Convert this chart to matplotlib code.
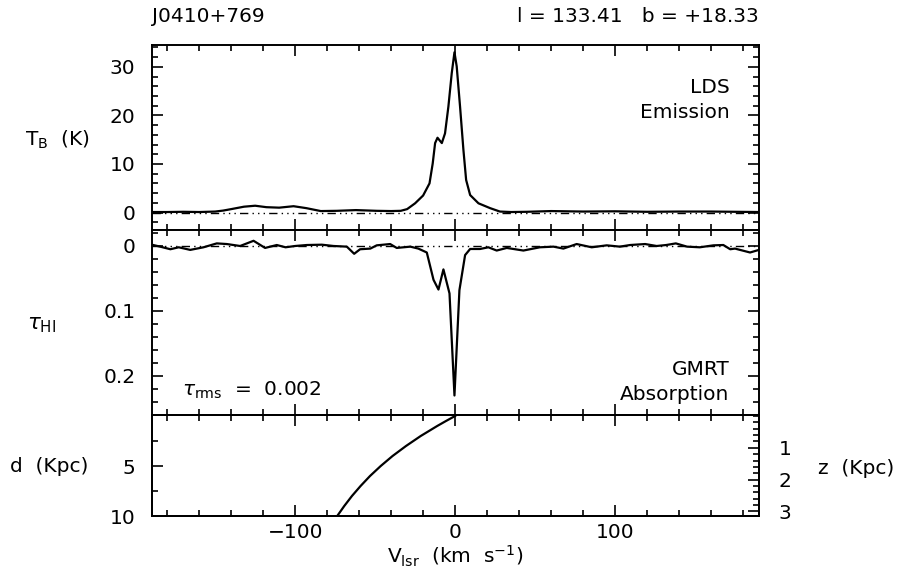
import numpy as np
import matplotlib
matplotlib.use("Agg")
import matplotlib.pyplot as plt
from matplotlib.ticker import MultipleLocator, FixedLocator

plt.rcParams["font.family"] = ["DejaVu Sans"]
plt.rcParams["mathtext.fontset"] = "dejavusans"

SOURCE = "J0410+769"
GAL_L = 133.41
GAL_B = 18.33

# LDS emission spectrum (km/s, K)
v_em = [-189, -180, -170, -160, -150, -145, -140, -132, -125, -118, -110, -101,
        -93, -84, -74, -62, -49, -40, -34, -30, -25, -20, -16, -14, -12.5, -11,
        -8.3, -6.3, -4.2, -2.1, -0.4, 1, 3.1, 5.2, 6.9, 9.4, 14.6, 21.9, 28, 35,
        45, 60, 80, 100, 120, 140, 160, 175, 190]
t_em = [0.1, 0.1, 0.15, 0.1, 0.2, 0.4, 0.7, 1.2, 1.4, 1.1, 1.0, 1.3,
        0.9, 0.3, 0.35, 0.5, 0.35, 0.3, 0.35, 0.7, 1.9, 3.5, 6.0, 10.1, 14.3, 15.4,
        14.3, 16.3, 21.8, 28.7, 33.0, 30.1, 21.8, 12.9, 6.7, 3.6, 1.9, 0.9, 0.2, 0.1,
        0.15, 0.3, 0.2, 0.25, 0.15, 0.2, 0.2, 0.15, 0.1]

# GMRT absorption spectrum (km/s, optical depth)
v_abs = [-189.6, -184.4, -178, -172.8, -165.6, -157.3, -149, -142.7, -134.4, -126,
         -118.8, -111.5, -106, -100, -92.7, -83.3, -76, -67.7, -63.1, -59.4, -53,
         -49, -40.6, -36.5, -28, -23, -17.7, -13.5, -10.4, -7.3, -3.5, -0.4, 2.7,
         6.25, 9.4, 15.6, 20.8, 26, 32.3, 42.7, 53, 61.5, 67.7, 76, 85.4, 94.8, 103,
         109.4, 118.8, 126, 132, 138, 145, 153, 161.5, 167.7, 172, 175, 184.4, 190]
tau_abs = [-0.002, 0.001, 0.005, 0.002, 0.006, 0.002, -0.004, -0.003, 0, -0.008,
           0.003, -0.0015, 0.002, 0, -0.0015, -0.002, 0, 0.001, 0.012, 0.005, 0.004,
           -0.001, -0.003, 0.003, 0.001, 0.004, 0.010, 0.052, 0.067, 0.036, 0.073, 0.230, 0.068,
           0.014, 0.0046, 0.0046, 0.002, 0.007, 0.003, 0.007, 0.002, 0.001, 0.004, -0.003, 0.002, -0.001, 0.001,
           -0.0015, -0.003, 0, -0.0015, -0.004, 0.001, 0.002, -0.001, -0.0015, 0.005, 0.004, 0.010, 0.006]

# kinematic distance curve
d_kpc = [0, 0.5, 1, 2, 3, 4, 5, 6, 7, 8, 9, 10]
v_dist = [0, -5.7, -11.2, -21.5, -30.7, -39.1, -46.5, -53.2, -59.1, -64.5, -69.3, -73.7]

TAU_RMS = "0.002"

FS = 14.5
XLIM = (-189.5, 190)
ZERO_DASH = (6, 3, 1, 3, 1, 3, 1, 3)


def style_axis(ax):
    for s in ax.spines.values():
        s.set_linewidth(1.4)
    ax.xaxis.set_major_locator(MultipleLocator(100))
    ax.xaxis.set_minor_locator(MultipleLocator(20))
    ax.tick_params(which="both", direction="in", top=True, right=True,
                   labelsize=FS, width=1.2)
    ax.tick_params(which="major", length=8, pad=12)
    ax.tick_params(which="minor", length=4)
    ax.tick_params(axis="x", which="major", pad=5)
    ax.set_xlim(*XLIM)


fig = plt.figure(figsize=(9.03, 5.82), dpi=100)
W, H = 903.0, 582.0
left = 152 / W
width = (759 - 152) / W


def box(top_px, bot_px):
    return [left, 1 - bot_px / H, width, (bot_px - top_px) / H]


ax1 = fig.add_axes(box(45, 230))
ax2 = fig.add_axes(box(230, 415))
ax3 = fig.add_axes(box(415, 516))

# emission
style_axis(ax1)
ax1.plot(v_em, t_em, color="black", lw=1.6)
ax1.plot(XLIM, [0, 0], color="black", lw=1.0, dashes=ZERO_DASH)
ax1.set_ylim(-3.6, 34.5)
ax1.yaxis.set_major_locator(MultipleLocator(10))
ax1.yaxis.set_minor_locator(MultipleLocator(2))
ax1.tick_params(labelbottom=False)
ax1.text(0.951, 0.585, "LDS\nEmission", transform=ax1.transAxes, ha="right",
         va="bottom", fontsize=FS, linespacing=1.4)

# absorption
style_axis(ax2)
ax2.plot(v_abs, tau_abs, color="black", lw=1.6)
ax2.plot(XLIM, [0, 0], color="black", lw=1.0, dashes=ZERO_DASH)
ax2.set_ylim(0.26, -0.0246)
ax2.yaxis.set_major_locator(FixedLocator([0, 0.1, 0.2]))
ax2.set_yticklabels(["0", "0.1", "0.2"])
ax2.yaxis.set_minor_locator(MultipleLocator(0.02))
ax2.tick_params(labelbottom=False)
ax2.text(0.951, 0.06, "GMRT\nAbsorption", transform=ax2.transAxes, ha="right",
         va="bottom", fontsize=FS, linespacing=1.4)
ax2.text(0.05, 0.075, r"$\tau_{\rm rms}$  =  " + TAU_RMS, transform=ax2.transAxes,
         ha="left", va="bottom", fontsize=FS)

# distance panel
style_axis(ax3)
ax3.plot(v_dist, d_kpc, color="black", lw=1.6)
ax3.set_ylim(10, -0.1)
ax3.yaxis.set_major_locator(FixedLocator([5, 10]))
ax3.yaxis.set_minor_locator(FixedLocator([2.5, 7.5]))
ax3.tick_params(axis="y", right=False, which="both")
ax3.set_xticks([-100, 0, 100])
ax3.set_xticklabels(["\u2212100", "0", "100"])

sinb = np.sin(np.radians(GAL_B))
ax3z = ax3.twinx()
ax3z.set_ylim(10 * sinb, -0.1 * sinb)
ax3z.yaxis.set_major_locator(FixedLocator([1, 2, 3]))
ax3z.yaxis.set_minor_locator(MultipleLocator(0.2))
ax3z.tick_params(which="both", direction="in", labelsize=FS, width=1.2)
ax3z.tick_params(which="major", length=8, pad=14)
ax3z.tick_params(which="minor", length=4)
for s in ax3z.spines.values():
    s.set_linewidth(1.4)

# labels
fig.text(152 / W, 1 - 16 / H, SOURCE, ha="left", va="center", fontsize=FS)
fig.text(759 / W, 1 - 16 / H, "l = %.2f   b = +%.2f" % (GAL_L, GAL_B),
         ha="right", va="center", fontsize=FS)
fig.text(25 / W, 1 - 140 / H, r"T$_{\rm B}$  (K)", ha="left", va="center", fontsize=FS)
fig.text(27 / W, 1 - 325 / H, r"$\tau_{\rm HI}$", ha="left", va="center", fontsize=FS + 1)
fig.text(10 / W, 1 - 466 / H, "d  (Kpc)", ha="left", va="center", fontsize=FS)
fig.text(818 / W, 1 - 468 / H, "z  (Kpc)", ha="left", va="center", fontsize=FS)
fig.text(455 / W, 1 - 556 / H, r"V$_{\rm lsr}$  (km  s$^{-1}$)", ha="center",
         va="center", fontsize=FS)

fig.savefig("out.png", dpi=100)
